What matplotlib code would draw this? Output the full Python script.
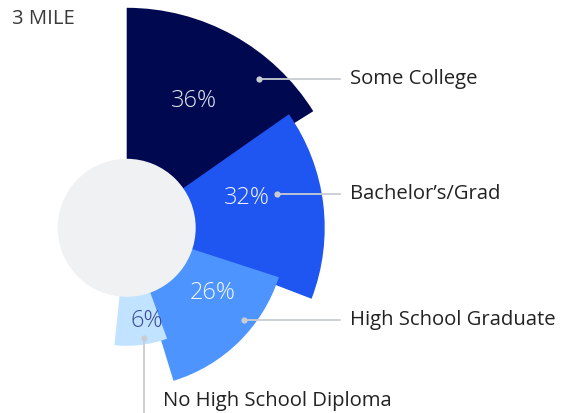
import matplotlib.pyplot as plt
import numpy as np

# data
categories = ["Some College", "Bachelor\u2019s/Grad", "High School Graduate", "No High School Diploma"]
pct = [36, 32, 26, 6]
# variable pie: angular size (deg) and outer radius of each slice
slice_deg = [55, 53, 52, 26]
slice_radius = [220, 198, 160, 118]
title = "3 MILE"

# styling / layout
colors = ["#000850", "#1f55f0", "#4d94ff", "#c2e3ff"]
pct_colors = ["#e4e6f0", "#eef2ff", "#f2f7ff", "#3b4c9c"]
hole_r = 69
overlap = 3
label_theta = [28, 76, 127, 168]
label_r = [144, 124, 108, 95]
dot_theta = [41.7, 77.2, 128.3, 171.1]
dot_r = [199, 154, 149, 112]
line_col = "#c9ccd3"
font = ["Open Sans", "DejaVu Sans"]

W, H = 561, 413
cx, cy = 126.7, H - 227.8
R = 221

fig = plt.figure(figsize=(W / 100, H / 100), dpi=100)
ax = fig.add_axes([(cx - R) / W, (cy - R) / H, 2 * R / W, 2 * R / H], projection="polar")
ax.set_theta_zero_location("N")
ax.set_theta_direction(-1)
ax.set_ylim(0, R)
ax.axis("off")

starts = np.concatenate([[0], np.cumsum(slice_deg)[:-1]])
n = len(pct)
for i in range(n):
    w = slice_deg[i] + (overlap if i < n - 1 else 0)
    ax.bar(np.radians(starts[i] + w / 2), slice_radius[i], width=np.radians(w),
           bottom=0, color=colors[i], linewidth=0, zorder=2 + i * 0.1)

ax.bar(0, hole_r, width=2 * np.pi, bottom=0, color="#f0f1f3", linewidth=0, zorder=3)

for i in range(n):
    ax.text(np.radians(label_theta[i]), label_r[i], "{:d}%".format(pct[i]),
            ha="center", va="center", fontsize=17, color=pct_colors[i],
            family=font, fontweight="light", zorder=5)

ax.apply_aspect()
for i in range(n):
    px, py = ax.transData.transform((np.radians(dot_theta[i]), dot_r[i]))
    fig.add_artist(plt.Line2D([px], [py], transform=None, marker="o", ms=4.5,
                              color=line_col, mec="none", zorder=6))
    if i < n - 1:
        fig.add_artist(plt.Line2D([px, 340], [py, py], transform=None, color=line_col,
                                  lw=1.3, zorder=6))
        fig.text(350 / W, py / H, categories[i], ha="left", va="center", fontsize=14.6,
                 color="#222222", family=font)
    else:
        fig.add_artist(plt.Line2D([px, px], [py, 0], transform=None, color=line_col,
                                  lw=1.3, zorder=6))
        fig.text(163 / W, 12 / H, categories[i], ha="left", va="center", fontsize=14.6,
                 color="#222222", family=font)

fig.text(12 / W, (H - 19) / H, title, ha="left", va="center", fontsize=14.6,
         color="#3a3a3a", family=font)

fig.savefig("out.png", dpi=100)
